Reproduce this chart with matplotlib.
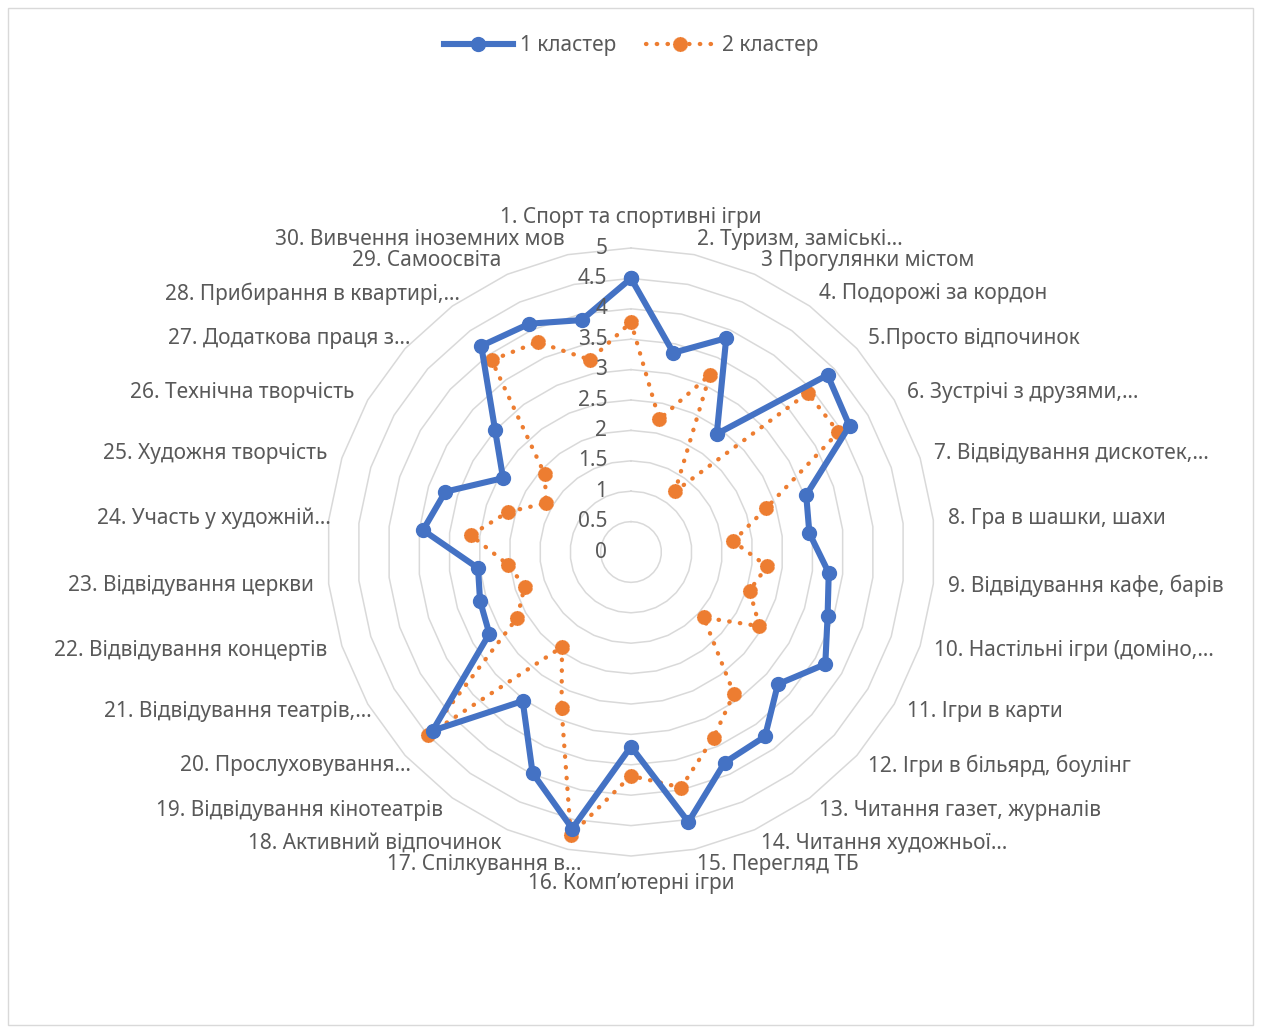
import numpy as np
import matplotlib.pyplot as plt
from matplotlib.lines import Line2D
from matplotlib.patches import Rectangle
from matplotlib.path import Path

# Дані
categories = [
    "1. Спорт та спортивні ігри",
    "2. Туризм, заміські…",
    "3 Прогулянки містом",
    "4. Подорожі за кордон",
    "5.Просто відпочинок",
    "6. Зустрічі з друзями,…",
    "7. Відвідування дискотек,…",
    "8. Гра в шашки, шахи",
    "9. Відвідування кафе, барів",
    "10. Настільні ігри (доміно,…",
    "11. Ігри в карти",
    "12. Ігри в більярд, боулінг",
    "13. Читання газет, журналів",
    "14. Читання художньої…",
    "15. Перегляд ТБ",
    "16. Комп’ютерні ігри",
    "17. Спілкування в…",
    "18. Активний відпочинок",
    "19. Відвідування кінотеатрів",
    "20. Прослуховування…",
    "21. Відвідування театрів,…",
    "22. Відвідування концертів",
    "23. Відвідування церкви",
    "24. Участь у художній…",
    "25. Художня творчість",
    "26. Технічна творчість",
    "27. Додаткова праця з…",
    "28. Прибирання в квартирі,…",
    "29. Самоосвіта",
    "30. Вивчення іноземних мов",
]

cluster1 = [4.5, 3.35, 3.85, 2.4, 4.35, 4.15, 3.03, 2.95, 3.27, 3.4,
            3.69, 3.25, 3.75, 3.79, 4.54, 3.2, 4.65, 3.98, 3.03, 4.39,
            2.69, 2.61, 2.53, 3.44, 3.21, 2.43, 3.01, 4.19, 4.11, 3.9]
cluster2 = [3.78, 2.23, 3.19, 1.23, 3.91, 3.94, 2.34, 1.69, 2.25, 2.05,
            2.44, 1.61, 2.88, 3.34, 3.96, 3.68, 4.76, 2.81, 1.93, 4.5,
            2.16, 1.84, 2.03, 2.65, 2.13, 1.61, 1.91, 3.9, 3.78, 3.23]
series_names = ["1 кластер", "2 кластер"]
ticks = [0, 0.5, 1, 1.5, 2, 2.5, 3, 3.5, 4, 4.5, 5]
tick_labels = ["0", "0.5", "1", "1.5", "2", "2.5", "3", "3.5", "4", "4.5", "5"]

plt.rcParams['font.family'] = ['Noto Sans', 'DejaVu Sans']
TXT = '#595959'
BLUE = '#4472C4'
ORANGE = '#ED7D31'
FS = 15

W, H = 1261, 1028
cx, cy, ppu = 631, 552, 60.8  # центр і піксели на одиницю

fig = plt.figure(figsize=(W / 100, H / 100), dpi=100)
ax = fig.add_axes([0, 0, 1, 1])
ax.set_xlim(-cx / ppu, (W - cx) / ppu)
ax.set_ylim(-(H - cy) / ppu, cy / ppu)
ax.axis('off')

n = len(categories)
ang = np.deg2rad(np.arange(n) * 360 / n)
sx, sy = np.sin(ang), np.cos(ang)

# Сітка
for t in ticks[1:]:
    ax.plot(np.append(sx, sx[0]) * t, np.append(sy, sy[0]) * t,
            color='#D9D9D9', lw=1.1, zorder=1)

# Маркер "шестерня" для 2 кластера
k = 28
a = np.linspace(0, 2 * np.pi, 2 * k, endpoint=False)
rr = np.where(np.arange(2 * k) % 2 == 0, 1.0, 0.82)
gear = Path(np.column_stack([rr * np.cos(a), rr * np.sin(a)]))

v1 = np.array(cluster1 + cluster1[:1])
v2 = np.array(cluster2 + cluster2[:1])
xs, ys = np.append(sx, sx[0]), np.append(sy, sy[0])

dots = (0, (0.1, 2.4))
ax.plot(xs * v2, ys * v2, color=ORANGE, lw=3.1, linestyle=dots,
        dash_capstyle='round', zorder=3)
ax.plot(sx * cluster2, sy * cluster2, linestyle='none', marker=gear,
        markersize=10, color=ORANGE, zorder=4)
ax.plot(xs * v1, ys * v1, color=BLUE, lw=4.4, marker='o', markersize=10,
        solid_joinstyle='round', zorder=5)

# Підписи шкали
for t, lab in zip(ticks, tick_labels):
    ax.text(-0.39, t, lab, ha='right', va='center', fontsize=FS, color=TXT,
            zorder=6)

# Підписи категорій
R = 5 + 15 / ppu
for i, lab in enumerate(categories):
    x, y = R * sx[i], R * sy[i]
    if i == 0:
        ax.text(0, 5 + 31 / ppu, lab, ha='center', va='center', fontsize=FS, color=TXT)
    elif i == n // 2:
        ax.text(0, -(5 + 27 / ppu), lab, ha='center', va='center', fontsize=FS, color=TXT)
    elif i < n // 2:
        ax.text(x, y, lab, ha='left', va='center', fontsize=FS, color=TXT)
    else:
        if lab.endswith('…'):
            x += 17 / ppu
        ax.text(x, y, lab, ha='right', va='center', fontsize=FS, color=TXT)

# Легенда
handles = [
    Line2D([], [], color=BLUE, lw=4.4, marker='o', markersize=10),
    Line2D([], [], color=ORANGE, lw=3.1, linestyle=dots,
           dash_capstyle='round', marker=gear, markersize=10),
]
fig.legend(handles, series_names, loc='center', ncol=2,
           bbox_to_anchor=(cx / W, 1 - 46 / H), frameon=False,
           fontsize=FS, labelcolor=TXT, handlelength=3.3,
           columnspacing=1.4, handletextpad=0.35)

fig.add_artist(Rectangle((8 / W, 3 / H), (W - 16) / W, (H - 11) / H,
                         transform=fig.transFigure, fill=False,
                         edgecolor='#D9D9D9', lw=1))

fig.savefig('out.png', dpi=100)
